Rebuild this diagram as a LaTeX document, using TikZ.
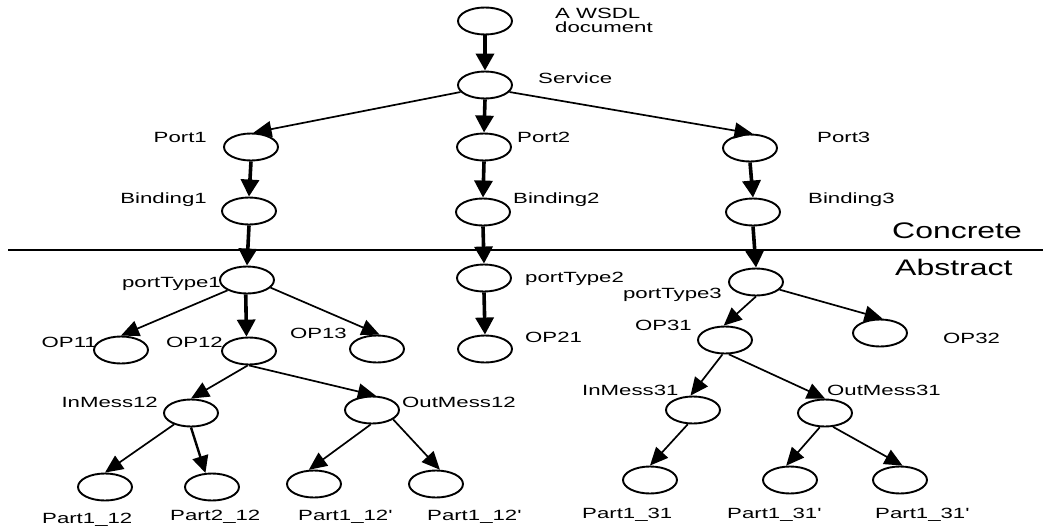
\documentclass[tikz,border=0pt]{standalone}
\usepackage{fontspec}
\newfontfamily\labfnt{Liberation Sans}[FakeStretch=1.5]
\newfontfamily\bigfnt{Liberation Sans}[FakeStretch=1.42]
\usetikzlibrary{arrows.meta,shapes.geometric}
\begin{document}
\begin{tikzpicture}[x=1pt,y=-1pt,
  nd/.style={ellipse,draw,line width=1.9pt,minimum width=54pt,minimum height=27pt,inner sep=0pt},
  lbl/.style={inner sep=0pt,font=\labfnt\fontsize{14.8}{13.5}\selectfont},
  bigl/.style={inner sep=0pt,font=\bigfnt\fontsize{22.5}{22}\selectfont},
  thk/.style={line width=3.6pt,-{Triangle[length=17pt,width=18pt]}},
  thn/.style={line width=1.7pt,-{Triangle[length=18pt,width=16pt]}},
]
\useasboundingbox (0,0) rectangle (1043,527);
% separator
\coordinate (sepL) at (8,250);
\coordinate (sepR) at (1043,250);
\draw[line width=2pt] (sepL) -- (sepR);
\node[bigl,anchor=base west] (concrete) at (892,238) {Concrete};
\node[bigl,anchor=base west] (abstract) at (895,275) {Abstract};

% nodes
\node[nd] (wsdl) at (485,21) {};
\node[nd] (service) at (485,85) {};
\node[nd] (port1) at (251,147) {};
\node[nd] (port2) at (484,147) {};
\node[nd] (port3) at (750,148) {};
\node[nd] (binding1) at (249,211) {};
\node[nd] (binding2) at (483,212) {};
\node[nd] (binding3) at (753,212) {};
\node[nd] (pt1) at (247,280) {};
\node[nd] (pt2) at (484,278) {};
\node[nd] (pt3) at (756,282) {};
\node[nd] (op11) at (121,350) {};
\node[nd] (op12) at (249,351) {};
\node[nd] (op13) at (377,349) {};
\node[nd] (op21) at (485,349) {};
\node[nd] (op31) at (725,340) {};
\node[nd] (op32) at (880,333) {};
\node[nd] (in12) at (191,413) {};
\node[nd] (out12) at (372,410) {};
\node[nd] (in31) at (693,410) {};
\node[nd] (out31) at (825,413) {};
\node[nd] (p112) at (105,487) {};
\node[nd] (p212) at (212,487) {};
\node[nd] (p112a) at (314,484) {};
\node[nd] (p112b) at (436,484) {};
\node[nd] (p131) at (650,480) {};
\node[nd] (p131a) at (790,480) {};
\node[nd] (p131b) at (900,480) {};

% labels
\node[lbl,anchor=north west,align=left] (lwsdl) at (555,8) {A WSDL\\document};
\node[lbl,anchor=base west] (lservice) at (538,83) {Service};
\node[lbl,anchor=base east] (lport1) at (207,142) {Port1};
\node[lbl,anchor=base west] (lport2) at (517,142) {Port2};
\node[lbl,anchor=base west] (lport3) at (817,142) {Port3};
\node[lbl,anchor=base east] (lbinding1) at (207,203) {Binding1};
\node[lbl,anchor=base west] (lbinding2) at (513,203) {Binding2};
\node[lbl,anchor=base west] (lbinding3) at (808,203) {Binding3};
\node[lbl,anchor=base east] (lpt1) at (221,287) {portType1};
\node[lbl,anchor=base west] (lpt2) at (525,282) {portType2};
\node[lbl,anchor=base east] (lpt3) at (722,298) {portType3};
\node[lbl,anchor=base east] (lop11) at (97,347) {OP11};
\node[lbl,anchor=base east] (lop12) at (223,347) {OP12};
\node[lbl,anchor=base east] (lop13) at (347,338) {OP13};
\node[lbl,anchor=base west] (lop21) at (525,342) {OP21};
\node[lbl,anchor=base east] (lop31) at (692,330) {OP31};
\node[lbl,anchor=base west] (lop32) at (943,343) {OP32};
\node[lbl,anchor=base east] (lin12) at (158,407) {InMess12};
\node[lbl,anchor=base west] (lout12) at (402,407) {OutMess12};
\node[lbl,anchor=base west] (lin31) at (582,395) {InMess31};
\node[lbl,anchor=base west] (lout31) at (827,395) {OutMess31};
\node[lbl,anchor=base west] (lp112) at (42,523) {Part1\_12};
\node[lbl,anchor=base west] (lp212) at (170,520) {Part2\_12};
\node[lbl,anchor=base west] (lp112a) at (298,520) {Part1\_12'};
\node[lbl,anchor=base west] (lp112b) at (427,520) {Part1\_12'};
\node[lbl,anchor=base west] (lp131) at (582,518) {Part1\_31};
\node[lbl,anchor=base west] (lp131a) at (727,518) {Part1\_31'};
\node[lbl,anchor=base west] (lp131b) at (875,518) {Part1\_31'};

% connectors
\draw[thk] (wsdl.south) -- (service.north);
\draw[thn] (service.196) -- (port1.80);
\draw[thk] (service.south) -- (port2.north);
\draw[thn] (service.344) -- (port3.80);
\draw[thk] (port1.south) -- (binding1.north);
\draw[thk] (port2.south) -- (binding2.north);
\draw[thk] (port3.south) -- (binding3.north);
\draw[thk] (binding1.south) -- (pt1.north);
\draw[thk] (binding2.south) -- (pt2.north);
\draw[thk] (binding3.south) -- (pt3.north);
\draw[thn] (pt1.208) -- (op11.north);
\draw[thk] (pt1.265) -- (op12.100);
\draw[thn] (pt1.342) -- (op13.80);
\draw[thk] (pt2.south) -- (op21.north);
\draw[thn] (pt3.south) -- (op31.95);
\draw[thn] (pt3.342) -- (op32.80);
\draw[thn] (op12.265) -- (in12.north);
\draw[thn] (op12.south) -- (out12.75);
\draw[thn] (in12.214) -- (p112.north);
\draw[line width=2.4pt,-{Triangle[length=17pt,width=16pt]}] (in12.south) -- (p212.115);
\draw[thn] (out12.265) -- (p112a.110);
\draw[thn] (out12.336) -- (p112b.75);
\draw[thn] (op31.260) -- (in31.100);
\draw[thn] (op31.285) -- (out31.north);
\draw[thn] (in31.250) -- (p131.north);
\draw[thn] (out31.250) -- (p131a.105);
\draw[thn] (out31.300) -- (p131b.80);
\end{tikzpicture}
\end{document}
